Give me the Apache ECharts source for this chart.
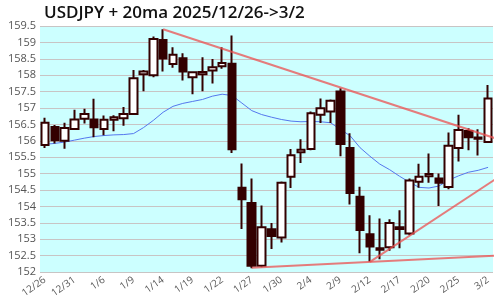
<!DOCTYPE html>
<html><head><meta charset="utf-8">
<script src="https://cdn.jsdelivr.net/npm/echarts@6/dist/echarts.min.js"></script>
<style>html,body{margin:0;padding:0;background:#fff}#c{width:500px;height:300px}</style>
</head><body><div id="c"></div>
<script>
const dates = ['12/26','12/29','12/30','12/31','1/2','1/5','1/6','1/7','1/8','1/9','1/12','1/13','1/14','1/15','1/16','1/19','1/20','1/21','1/22','1/23','1/26','1/27','1/28','1/29','1/30','2/2','2/3','2/4','2/5','2/6','2/9','2/10','2/11','2/12','2/13','2/16','2/17','2/18','2/19','2/20','2/23','2/24','2/25','2/26','2/27','3/2'];
const opens  = [155.87,156.42,156.00,156.36,156.67,156.65,156.36,156.64,156.69,156.82,158.03,158.00,159.07,158.34,158.52,157.94,158.03,158.14,158.27,158.35,154.57,154.10,152.19,153.30,153.05,154.90,155.65,155.75,156.79,156.89,157.50,155.78,154.29,153.15,152.72,152.75,153.36,153.17,154.75,154.92,154.85,154.59,155.78,156.30,156.10,155.96];
const closes = [156.55,156.02,156.39,156.65,156.82,156.41,156.64,156.72,156.82,157.91,158.11,159.10,158.51,158.62,158.11,158.09,158.10,158.24,158.37,155.74,154.22,152.19,153.36,153.10,154.72,155.56,155.73,156.84,156.99,157.22,155.90,154.41,153.28,152.78,152.68,153.49,153.31,154.79,154.90,154.99,154.72,155.85,156.33,156.11,156.06,157.29];
const lows   = [155.78,155.92,155.76,156.36,156.53,156.11,156.17,156.29,156.46,156.80,157.51,157.94,158.11,158.23,157.84,157.42,157.51,157.75,158.20,155.63,153.31,152.11,152.14,152.70,152.90,154.56,155.32,155.71,156.54,156.54,155.53,154.06,152.57,152.31,152.39,152.65,152.72,153.12,154.57,154.72,154.01,154.52,155.37,155.71,155.55,155.96];
const highs  = [156.70,156.48,156.55,156.95,156.98,157.28,156.77,156.78,157.03,158.16,158.16,159.18,159.40,158.85,158.67,158.11,158.55,158.49,158.85,159.21,155.31,154.85,154.03,153.49,154.76,155.75,156.05,156.89,157.29,157.26,157.60,156.23,154.60,153.73,153.63,153.61,153.88,154.85,155.30,155.61,155.00,156.25,156.79,156.38,156.35,157.70];
const ma20   = [155.89,155.92,155.96,156.02,156.08,156.13,156.16,156.18,156.19,156.22,156.40,156.62,156.87,157.05,157.14,157.20,157.26,157.36,157.42,157.38,157.15,156.92,156.80,156.72,156.65,156.60,156.58,156.59,156.58,156.55,156.35,156.15,155.79,155.53,155.29,155.12,154.92,154.74,154.58,154.56,154.62,154.80,154.93,155.04,155.10,155.19];
const trendDown  = [[12,159.40],[46.2,156.03]];
const trendFloor = [[21,152.13],[46.2,152.50]];
const trendUp    = [[33,152.31],[46.2,154.92]];
const yTicks = {min:152, max:159.5, interval:0.5};

const font = "'Open Sans', 'Noto Sans', sans-serif";
const candle = dates.map((d,i)=>[opens[i],closes[i],lows[i],highs[i]]);
const trendStyle = {color:'rgba(236,80,80,0.75)', width:2};
const mkTrend = d => ({type:'line', xAxisIndex:1, data:d, symbol:'none', clip:false, silent:true, lineStyle:trendStyle, z:5});

const chart = echarts.init(document.getElementById('c'), null, {renderer:'canvas'});
chart.setOption({
  animation:false,
  title:{text:'USDJPY + 20ma 2025/12/26->3/2', left:39, top:0, textStyle:{fontFamily:font, fontWeight:600, fontSize:17, color:'#111'}},
  grid:{left:40, right:7, top:26, bottom:27, show:true, backgroundColor:'#ccffff', borderWidth:0},
  xAxis:[{
    type:'category', data:dates, boundaryGap:true,
    axisLine:{show:false}, axisTick:{show:false}, splitLine:{show:false},
    axisLabel:{interval:2, rotate:35, fontFamily:font, fontSize:10, color:'#555', margin:7}
  },{
    type:'value', min:-0.5, max:45.5, show:false
  }],
  yAxis:{
    type:'value', min:yTicks.min, max:yTicks.max, interval:yTicks.interval,
    axisLine:{show:false}, axisTick:{show:false},
    splitLine:{lineStyle:{color:'#c8c4c4', width:1}},
    axisLabel:{fontFamily:font, fontSize:11, color:'#555', margin:4}
  },
  series:[
    {type:'line', data:ma20, symbol:'none', lineStyle:{color:'#5577ee', width:1}, z:2, silent:true},
    {type:'candlestick', data:candle, barWidth:8, z:3,
     itemStyle:{color:'#ffffff', color0:'#330000', borderColor:'#330000', borderColor0:'#330000', borderWidth:2}},
    mkTrend(trendDown), mkTrend(trendFloor), mkTrend(trendUp)
  ]
});
</script></body></html>
